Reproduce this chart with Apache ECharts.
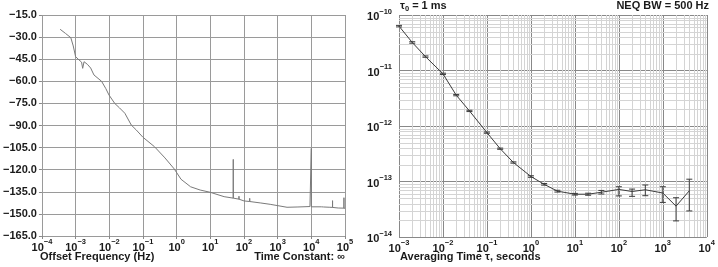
<!DOCTYPE html>
<html><head><meta charset="utf-8">
<script src="https://cdn.jsdelivr.net/npm/echarts@6/dist/echarts.min.js"></script>
<style>html,body{margin:0;padding:0;background:#fff}#c{width:718px;height:267px}</style>
</head><body><div id="c"></div>
<script>
// ---- Left panel: phase noise (dBc/Hz) vs offset frequency ----
const pnFreq = [3.47e-4,5.0e-4,7.2e-4,8.5e-4,1.0e-3,1.26e-3,1.5e-3,1.62e-3,1.78e-3,2.24e-3,2.8e-3,3.5e-3,5.9e-3,7.9e-3,9.8e-3,1.45e-2,2.0e-2,2.9e-2,4.5e-2,6.3e-2,0.1,0.22,0.45,0.85,1.35,2.6,5.0,9.8,25.7,48,48,48,71,71,71,100,148,148,148,316,600,1900,4000,9100,10000,10000,10000,20000,23000,23000,23000,35500,42700,42700,42700,63000,93000,93000,93000,100000];
const pnLevel = [-24.7,-27.5,-30.4,-36,-43.3,-45.5,-47,-51.2,-46.7,-48.5,-51,-55.7,-60,-65,-69.3,-75,-78,-81.7,-89.7,-93,-98,-104.4,-112,-119.5,-126.5,-131.6,-133.8,-135.3,-138.3,-139.3,-113,-139.3,-140,-138,-140,-141.2,-141.6,-139.4,-141.6,-142.6,-143.5,-145.5,-145.3,-145,-145,-105.5,-145.2,-145.2,-145.3,-144,-145.3,-145.5,-145.6,-141,-145.6,-146,-146.1,-139,-146.1,-146.2];

// ---- Right panel: Allan deviation ----
const tau = [1e-3,2e-3,4e-3,1e-2,2e-2,4e-2,0.1,0.2,0.4,1,2,4,10,20,40,100,200,400,1000,2000,4000];
const adev = [6.3e-11,3.2e-11,1.78e-11,8.7e-12,3.6e-12,1.87e-12,7.6e-13,3.9e-13,2.2e-13,1.23e-13,8.9e-14,6.7e-14,5.9e-14,5.9e-14,6.4e-14,7.2e-14,6.6e-14,7.1e-14,6.2e-14,3.6e-14,6.8e-14];
const adevHi = [6.5e-11,3.3e-11,1.83e-11,8.95e-12,3.7e-12,1.92e-12,7.8e-13,4.0e-13,2.26e-13,1.27e-13,9.2e-14,6.95e-14,6.1e-14,6.15e-14,6.9e-14,8.05e-14,7.3e-14,8.65e-14,8.05e-14,5.1e-14,1.1e-13];
const adevLo = [6.1e-11,3.1e-11,1.73e-11,8.45e-12,3.5e-12,1.82e-12,7.4e-13,3.8e-13,2.14e-13,1.19e-13,8.6e-14,6.45e-14,5.7e-14,5.65e-14,5.95e-14,5.5e-14,5.4e-14,5.55e-14,4.2e-14,1.95e-14,2.95e-14];

const FONT = '"Liberation Sans", Arial, sans-serif';
const TXT = '#1a1a1a';
const X1 = [1e-3, 1e4], Y1 = [1e-14, 1e-10];

function powLabel(v){
  const e = Math.round(Math.log10(v));
  return '{b|10}{s|' + (e < 0 ? '\u2212' : '') + Math.abs(e) + '}';
}
const powRich = {
  b:{fontSize:11,fontWeight:'bold',fontFamily:FONT,color:TXT,lineHeight:15,verticalAlign:'bottom'},
  s:{fontSize:7.5,fontWeight:'bold',fontFamily:FONT,color:TXT,lineHeight:9,verticalAlign:'top'}
};

// minor log gridlines (2..9 per decade) on the right panel
const minorX = [], minorY = [];
for (let d = -3; d < 4; d++) for (let m = 2; m <= 9; m++) minorX.push([m * Math.pow(10, d)]);
for (let d = -14; d < -10; d++) for (let m = 2; m <= 9; m++) minorY.push([m * Math.pow(10, d)]);

const MINOR = '#d4d4d4';
function crisp(v){ return Math.round(v) + 0.5; }

const chart = echarts.init(document.getElementById('c'), null, {renderer:'canvas'});
chart.setOption({
  animation:false,
  backgroundColor:'#fff',
  grid:[
    {left:40, top:15, width:305, height:221},
    {left:399, top:15, width:310, height:222}
  ],
  xAxis:[
    {gridIndex:0, type:'log', logBase:10, min:1e-4, max:1e5,
     axisLine:{show:false}, axisTick:{show:true,length:3,lineStyle:{color:'#888'}},
     splitLine:{show:true,lineStyle:{color:'#9a9a9a',width:1}},
     axisLabel:{margin:2, formatter:powLabel, rich:powRich}},
    {gridIndex:1, type:'log', logBase:10, min:X1[0], max:X1[1],
     axisLine:{show:false}, axisTick:{show:false},
     splitLine:{show:true,lineStyle:{color:'#888',width:1}},
     axisLabel:{margin:2, formatter:powLabel, rich:powRich}}
  ],
  yAxis:[
    {gridIndex:0, type:'value', min:-165, max:-15, interval:15,
     axisLine:{show:false}, axisTick:{show:true,length:3,lineStyle:{color:'#888'}},
     splitLine:{show:true,lineStyle:{color:'#9a9a9a',width:1}},
     axisLabel:{margin:5, fontSize:11, fontWeight:'bold', fontFamily:FONT, color:TXT,
       formatter:v => (v < 0 ? '\u2212' : '') + Math.abs(v).toFixed(1)}},
    {gridIndex:1, type:'log', logBase:10, min:Y1[0], max:Y1[1],
     axisLine:{show:false}, axisTick:{show:false},
     splitLine:{show:true,lineStyle:{color:'#888',width:1}},
     axisLabel:{margin:7, formatter:powLabel, rich:powRich}}
  ],
  graphic:[
    {type:'text', left:40, top:251, style:{text:'Offset Frequency (Hz)', font:'bold 11px '+FONT, fill:TXT}},
    {type:'text', right:373, top:251, style:{text:'Time Constant: \u221e', font:'bold 11px '+FONT, fill:TXT}},
    {type:'text', left:400, top:251, style:{text:'Averaging Time \u03c4, seconds', font:'bold 11px '+FONT, fill:TXT}},
    {type:'text', left:400, top:0, style:{text:'{a|\u03c4}{u|0}{a| = 1 ms}', rich:{
      a:{font:'bold 11px '+FONT, fill:TXT, lineHeight:13, verticalAlign:'top'},
      u:{font:'bold 7.5px '+FONT, fill:TXT, lineHeight:13, verticalAlign:'bottom'}}}},
    {type:'text', right:9, top:0, style:{text:'NEQ BW = 500 Hz', font:'bold 11px '+FONT, fill:TXT}}
  ],
  series:[
    {type:'custom', xAxisIndex:1, yAxisIndex:1, silent:true, z:0, data:minorX, encode:{x:0},
     renderItem:function(params, api){
       const v = api.value(0);
       const a = api.coord([v, Y1[0]]), b = api.coord([v, Y1[1]]);
       const x = crisp(a[0]);
       return {type:'line', shape:{x1:x,y1:a[1],x2:x,y2:b[1]}, style:{stroke:MINOR, lineWidth:1}};
     }},
    {type:'custom', xAxisIndex:1, yAxisIndex:1, silent:true, z:0, data:minorY, encode:{y:0},
     renderItem:function(params, api){
       const v = api.value(0);
       const a = api.coord([X1[0], v]), b = api.coord([X1[1], v]);
       const y = crisp(a[1]);
       return {type:'line', shape:{x1:a[0],y1:y,x2:b[0],y2:y}, style:{stroke:MINOR, lineWidth:1}};
     }},
    {type:'line', xAxisIndex:0, yAxisIndex:0, showSymbol:false, z:3,
     data: pnFreq.map((f,i)=>[f,pnLevel[i]]),
     lineStyle:{color:'#7a7a7a', width:1}},
    {type:'line', xAxisIndex:1, yAxisIndex:1, showSymbol:false, z:3,
     data: tau.map((t,i)=>[t,adev[i]]),
     lineStyle:{color:'#3c3c3c', width:1}},
    {type:'custom', xAxisIndex:1, yAxisIndex:1, z:4,
     data: tau.map((t,i)=>[t,adevLo[i],adevHi[i]]),
     encode:{x:0, y:[1,2]},
     renderItem:function(params, api){
       const x = api.value(0);
       const pHi = api.coord([x, api.value(2)]);
       const pLo = api.coord([x, api.value(1)]);
       const w = 3, st = {stroke:'#3c3c3c', lineWidth:1};
       return {type:'group', children:[
         {type:'line', shape:{x1:pHi[0],y1:pHi[1],x2:pLo[0],y2:pLo[1]}, style:st},
         {type:'line', shape:{x1:pHi[0]-w,y1:pHi[1],x2:pHi[0]+w,y2:pHi[1]}, style:st},
         {type:'line', shape:{x1:pLo[0]-w,y1:pLo[1],x2:pLo[0]+w,y2:pLo[1]}, style:st}
       ]};
     }}
  ]
});
</script></body></html>
